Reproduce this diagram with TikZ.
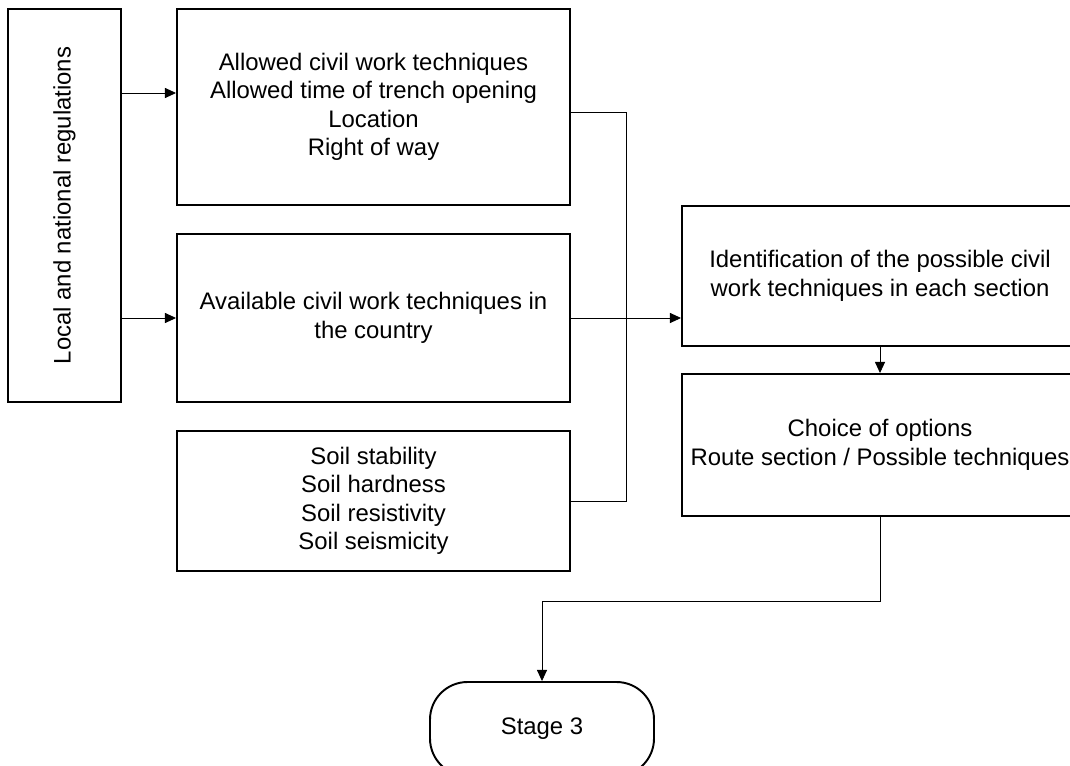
\documentclass[tikz,border=0pt]{standalone}
\usepackage{fontspec}
\setmainfont{Liberation Sans}
\usetikzlibrary{arrows.meta}

\begin{document}
\begin{tikzpicture}[>={Triangle[length=6.3pt, width=5.7pt]}]
    \useasboundingbox (0, 0) rectangle (21.4, -15.3);
    \begin{scope}[line width=1.1pt, every node/.style = {draw, align=center, inner sep=1pt, font=\fontsize{13.6}{16.2}\selectfont}]
      \node[rotate=90, minimum width=7.86cm, minimum height=2.26cm] (regs) at (1.29, -4.11) {Local and national regulations};
      \node[minimum width=7.86cm, minimum height=3.92cm] (allowed) at (7.47, -2.14) {Allowed civil work techniques\\ Allowed time of trench opening\\ Location\\ Right of way};
      \node[minimum width=7.86cm, minimum height=3.36cm] (avail) at (7.47, -6.36) {Available civil work techniques in\\ the country};
      \node[minimum width=7.86cm, minimum height=2.80cm] (soil) at (7.47, -10.02) {Soil stability\\ Soil hardness\\ Soil resistivity\\ Soil seismicity};
      \node[minimum width=7.92cm, minimum height=2.80cm] (ident) at (17.6, -5.52) {Identification of the possible civil\\ work techniques in each section};
      \node[minimum width=7.92cm, minimum height=2.84cm] (choice) at (17.6, -8.9) {Choice of options\\ Route section / Possible techniques};
      \node[minimum width=4.48cm, minimum height=1.88cm, rounded corners=0.75cm] (stage) at (10.84, -14.58) {Stage 3};
    \end{scope}
    \coordinate (in) at (0, -1.86);
    \coordinate (out) at ([yshift=-0.1cm]allowed.east);
    \coordinate (bus) at (12.53, 0);
    \coordinate (turn) at (0, -12.02);
    \begin{scope}[line width=0.5pt]
      \draw[->] (regs.south |- in) to (allowed.west |- in);
      \draw[->] (regs.south |- avail.west) to (avail.west);
      \draw (out) -- (bus |- out) -- (bus |- soil.east) -- (soil.east);
      \draw[->] (avail.east) to (ident.west |- avail.east);
      \draw[->] (ident) to (choice);
      \draw[->] (choice.south) |- (stage.north |- turn) -- (stage.north);
    \end{scope}
\end{tikzpicture}
\end{document}
